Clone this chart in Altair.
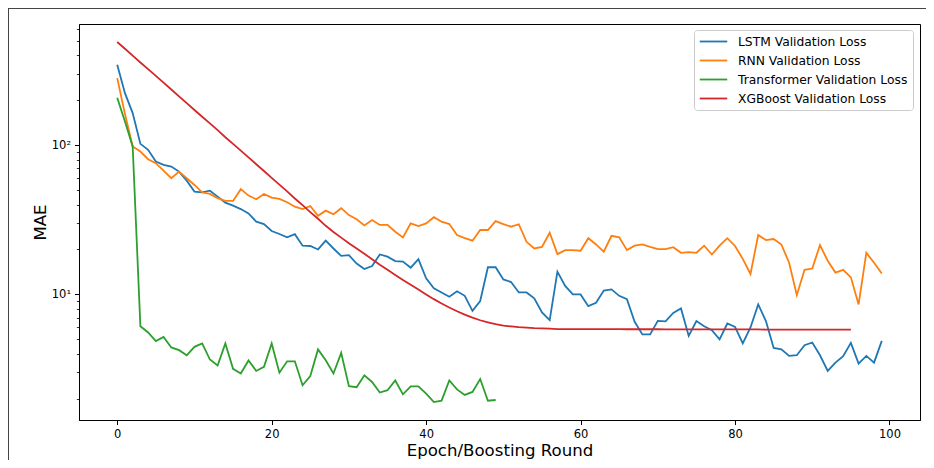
import altair as alt
import pandas as pd

# ---- data (epoch index = position in list) ----
lstm = [346, 223, 164, 102, 93, 77.6, 73.8, 71.8, 66.5, 57.8,
        48.8, 48.3, 49.5, 45.2, 41.2, 39.3, 37.3, 34.9, 30.7, 29.6,
        26.6, 25.4, 24.1, 25.3, 21.2, 21.1, 20.0, 22.9, 20.3, 18.1,
        18.3, 16.1, 14.8, 15.5, 18.5, 17.9, 16.7, 16.6, 15.1, 17.2,
        12.8, 11.0, 10.3, 9.64, 10.5, 9.78, 7.76, 9.02, 15.2, 15.2,
        12.6, 12.1, 10.3, 10.3, 9.40, 7.57, 6.72, 14.2, 11.4, 10.0,
        10.0, 8.34, 8.79, 10.6, 10.8, 9.78, 9.29, 6.55, 5.39, 5.39,
        6.65, 6.6, 7.52, 8.05, 5.27, 6.62, 6.12, 5.75, 4.99, 6.38,
        6.06, 4.69, 6.0, 8.57, 6.62, 4.38, 4.28, 3.87, 3.91, 4.57,
        4.76, 3.91, 3.07, 3.49, 3.85, 4.73, 3.44, 3.87, 3.49, 4.88]

rnn = [281, 162, 98, 90.6, 80.5, 75.7, 67.5, 60, 66.5, 60,
       54.1, 48.3, 47.1, 44.1, 42.3, 42.3, 50.7, 45.9, 43.4, 47.1,
       44.5, 43.6, 41.4, 38.7, 37.3, 39.1, 33.6, 36.4, 34.4, 37.8,
       34.0, 31.9, 29.0, 31.5, 29.2, 29.2, 26.3, 24.1, 29.9, 28.7,
       29.9, 32.9, 30.7, 29.6, 25.0, 23.8, 22.9, 27.0, 27.0, 31.0,
       29.6, 28.4, 29.5, 22.5, 20.3, 20.8, 25.9, 18.6, 19.8, 19.8,
       19.6, 23.8, 21.6, 19.3, 24.7, 24.1, 19.8, 21.2, 21.6, 20.8,
       20.1, 20.1, 20.7, 19.0, 19.2, 19.0, 21.2, 18.5, 21.2, 23.8,
       21.1, 17.3, 13.7, 25.0, 23.1, 23.5, 21.6, 16.3, 9.88, 14.6,
       14.9, 21.4, 16.8, 14.0, 14.6, 13.0, 8.57, 19.0, 16.3, 13.8]

transformer = [208, 144, 98, 6.12, 5.56, 4.86, 5.19, 4.41, 4.23, 3.91,
               4.45, 4.69, 3.66, 3.34, 4.69, 3.17, 2.95, 3.61, 3.07, 3.27,
               4.69, 2.99, 3.56, 3.56, 2.46, 2.84, 4.28, 3.62, 2.95, 4.06,
               2.43, 2.39, 2.87, 2.59, 2.20, 2.28, 2.65, 2.14, 2.42, 2.42,
               2.16, 1.90, 1.94, 2.65, 2.31, 2.12, 2.22, 2.71, 1.94, 1.96]

xgboost = [491, 442, 398, 358, 323, 291, 262, 236, 212, 191,
           172, 155, 140, 126, 113, 102, 91.8, 82.7, 74.5, 67.1,
           60.4, 54.4, 49.0, 43.9, 39.6, 35.6, 32.1, 28.8, 26.2, 24.0,
           22.0, 20.3, 18.7, 17.2, 15.8, 14.6, 13.5, 12.5, 11.6, 10.8,
           10.0, 9.29, 8.69, 8.17, 7.71, 7.31, 6.98, 6.71, 6.50, 6.31,
           6.18, 6.10, 6.03, 5.98, 5.94, 5.92, 5.89, 5.86, 5.86, 5.86,
           5.86, 5.85, 5.85, 5.85, 5.85, 5.85, 5.84, 5.84, 5.84, 5.84,
           5.84, 5.83, 5.83, 5.83, 5.83, 5.83, 5.83, 5.82, 5.82, 5.82,
           5.82, 5.82, 5.82, 5.82, 5.81, 5.81, 5.81, 5.81, 5.81, 5.81,
           5.81, 5.81, 5.81, 5.81, 5.81, 5.81]

series_names = ["LSTM Validation Loss", "RNN Validation Loss",
                "Transformer Validation Loss", "XGBoost Validation Loss"]
series_colors = ["#1f77b4", "#ff7f0e", "#2ca02c", "#d62728"]
x_ticks = [0, 20, 40, 60, 80, 100]
y_major = [10, 100]
y_minor = [2, 3, 4, 5, 6, 7, 8, 9, 20, 30, 40, 50, 60, 70, 80, 90,
           200, 300, 400, 500, 600]

rows = []
for name, vals in zip(series_names, [lstm, rnn, transformer, xgboost]):
    for i, v in enumerate(vals):
        rows.append({"epoch": i, "mae": v, "series": name})
df = pd.DataFrame(rows)
minor_df = pd.DataFrame({"mae": y_minor})

FONT = "DejaVu Sans"
W, H = 841, 396

x_scale = alt.Scale(domain=[-4.95, 103.95], nice=False, zero=False)
y_scale = alt.Scale(type="log", domain=[1.44, 648], nice=False)

lines = alt.Chart(df).mark_line(strokeWidth=1.8).encode(
    x=alt.X("epoch:Q", scale=x_scale,
            axis=alt.Axis(values=x_ticks, title="Epoch/Boosting Round",
                          titleY=35, titleBaseline="alphabetic")),
    y=alt.Y("mae:Q", scale=y_scale,
            axis=alt.Axis(values=y_major, title="MAE",
                          labelExpr="datum.value == 100 ? '10²' : '10¹'",
                          titleX=-39, titleY=H / 2, titleBaseline="middle")),
    color=alt.Color("series:N",
                    scale=alt.Scale(domain=series_names, range=series_colors),
                    legend=alt.Legend(title=None, orient="none",
                                      legendX=615, legendY=6,
                                      symbolType="M-2.5,0H2.5",
                                      symbolSize=121,
                                      symbolStrokeWidth=1.8,
                                      symbolOffset=8,
                                      labelOffset=18,
                                      labelFont=FONT, labelFontSize=12.3,
                                      labelColor="#000", labelLimit=400,
                                      rowPadding=6,
                                      padding=5, strokeColor="#cccccc",
                                      fillColor="#ffffff", cornerRadius=3)),
)

minor = alt.Chart(minor_df).mark_point(opacity=0).encode(
    y=alt.Y("mae:Q", scale=y_scale,
            axis=alt.Axis(values=y_minor, labels=False, tickSize=2.6,
                          domain=False, title="", orient="left",
                          tickWidth=0.8))
)

# screenshot frame around the figure (top and left edge)
frame_top = alt.Chart(minor_df).mark_rule(color="#444", strokeWidth=1).encode(
    x=alt.value(-71), x2=alt.value(W + 6), y=alt.value(-15.5))
frame_left = alt.Chart(minor_df).mark_rule(color="#444", strokeWidth=1).encode(
    x=alt.value(-70.5), y=alt.value(-15.5), y2=alt.value(H + 40))

chart = alt.layer(lines, minor, frame_top, frame_left).resolve_axis(
    y="independent"
).properties(
    width=W, height=H,
    background="#ffffff",
    autosize=alt.AutoSizeParams(type="none"),
    padding={"left": 71, "top": 16, "right": 6, "bottom": 40},
).configure_view(stroke="#000", strokeWidth=1).configure_axis(
    grid=False, domainColor="#000", domainWidth=1, tickColor="#000",
    tickWidth=1, tickSize=4.5, labelPadding=4, labelFont=FONT,
    labelFontSize=11.5, labelColor="#000", titleFont=FONT,
    titleFontSize=16.6, titleFontWeight="normal", titleColor="#000",
)

chart.save("out.html", embed_options={"renderer": "svg", "actions": False})
